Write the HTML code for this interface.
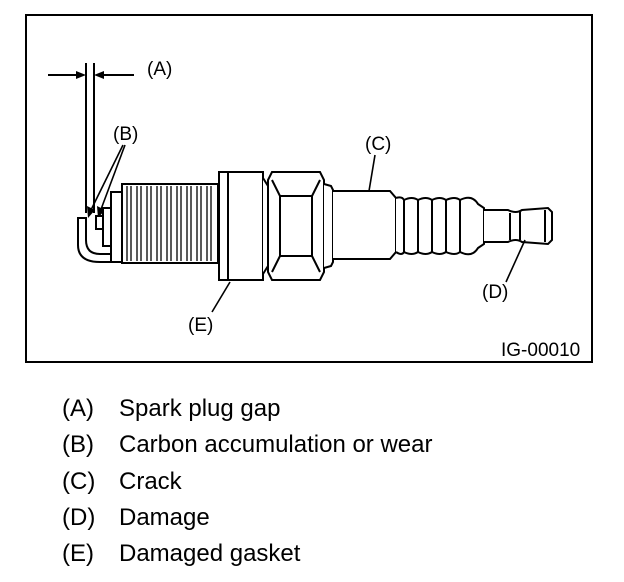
<!DOCTYPE html>
<html><head><meta charset="utf-8"><style>
html,body{margin:0;padding:0;background:#fff;}
svg{display:block;}
text{font-family:"Liberation Sans",Arial,sans-serif;fill:#000;}
</style></head><body>
<svg width="624" height="582" viewBox="0 0 624 582" xmlns="http://www.w3.org/2000/svg">
<rect x="26" y="15" width="566" height="347" fill="none" stroke="#000" stroke-width="2"/>
<g stroke="#000" stroke-width="2" fill="none">
<line x1="86" y1="63" x2="86" y2="213"/>
<line x1="94" y1="63" x2="94" y2="213"/>
<line x1="48" y1="75" x2="80" y2="75"/>
<line x1="100" y1="75" x2="134" y2="75"/>
</g>
<polygon points="86,75 76,71 76,79" fill="#000"/>
<polygon points="94,75 104,71 104,79" fill="#000"/>
<text x="147" y="75" font-size="19">(A)</text>
<text x="113" y="140" font-size="19">(B)</text>
<g stroke="#000" stroke-width="1.6" fill="none">
<line x1="123" y1="145" x2="90" y2="212"/>
<line x1="125" y1="145" x2="100" y2="212"/>
</g>
<polygon points="88,218 87,206 95,210" fill="#000"/>
<polygon points="98,218 97,206 105,210" fill="#000"/>
<g stroke="#000" stroke-width="2" fill="#fff">
<path d="M78,218 L78,245 Q78,262 100,262 L112,262 L112,254 L100,254 Q86,254 86,240 L86,218 Z"/>
<rect x="96" y="216" width="7" height="13"/>
<rect x="103" y="208" width="8" height="38"/>
<rect x="111" y="192" width="11" height="70"/>
<rect x="122" y="184" width="96" height="79"/>
</g>
<g stroke="#000" stroke-width="1.3">
<line x1="127" y1="186" x2="127" y2="261"/><line x1="131" y1="186" x2="131" y2="261"/>
<line x1="137" y1="186" x2="137" y2="261"/><line x1="141" y1="186" x2="141" y2="261"/>
<line x1="147" y1="186" x2="147" y2="261"/><line x1="151" y1="186" x2="151" y2="261"/>
<line x1="157" y1="186" x2="157" y2="261"/><line x1="161" y1="186" x2="161" y2="261"/>
<line x1="167" y1="186" x2="167" y2="261"/><line x1="171" y1="186" x2="171" y2="261"/>
<line x1="177" y1="186" x2="177" y2="261"/><line x1="181" y1="186" x2="181" y2="261"/>
<line x1="187" y1="186" x2="187" y2="261"/><line x1="191" y1="186" x2="191" y2="261"/>
<line x1="197" y1="186" x2="197" y2="261"/><line x1="201" y1="186" x2="201" y2="261"/>
<line x1="207" y1="186" x2="207" y2="261"/><line x1="211" y1="186" x2="211" y2="261"/>
</g>
<g stroke="#000" stroke-width="2" fill="#fff">
<rect x="219" y="172" width="44" height="108"/>
<line x1="228" y1="172" x2="228" y2="280"/>
<path d="M263,178 L268,186 L268,266 L263,274"/>
<path d="M272,172 L320,172 L324,180 L324,272 L320,280 L272,280 L268,272 L268,180 Z"/>
<path d="M272,180 L280,196 L280,256 L272,272"/>
<path d="M320,180 L312,196 L312,256 L320,272"/>
<line x1="280" y1="196" x2="312" y2="196"/>
<line x1="280" y1="256" x2="312" y2="256"/>
<path d="M324,184 L331,186 L333,190 L333,262 L331,266 L324,268"/>
<path d="M333,191 L390,191 L396,198 L396,252 L390,259 L333,259"/>
<path d="M396,198 Q402,196 404,200 Q412,196 418,200 Q426,196 432,200 Q440,196 446,200 Q455,196 460,200 Q472,194 478,204 L484,208 L484,244 L478,248 Q472,258 460,252 Q455,256 446,252 Q440,256 432,252 Q426,256 418,252 Q412,256 404,252 Q402,256 396,252"/>
<line x1="404" y1="200" x2="404" y2="252"/>
<line x1="418" y1="200" x2="418" y2="252"/>
<line x1="432" y1="200" x2="432" y2="252"/>
<line x1="446" y1="200" x2="446" y2="252"/>
<line x1="460" y1="200" x2="460" y2="252"/>
<path d="M484,210 L508,210 Q516,214 522,210 L548,208 L552,212 L552,240 L548,244 L522,242 Q516,238 508,242 L484,242"/>
<line x1="510" y1="213" x2="510" y2="240"/>
<line x1="520" y1="212" x2="520" y2="240"/>
<line x1="545" y1="210" x2="545" y2="242"/>
</g>
<g stroke="#000" stroke-width="1.6">
<line x1="375" y1="155" x2="369" y2="191"/>
<line x1="525" y1="240" x2="506" y2="282"/>
<line x1="230" y1="282" x2="212" y2="312"/>
</g>
<text x="365" y="150" font-size="19">(C)</text>
<text x="482" y="298" font-size="19">(D)</text>
<text x="188" y="331" font-size="19">(E)</text>
<text x="501" y="356" font-size="19">IG-00010</text>
<g font-size="24">
<text x="62" y="416">(A)</text><text x="119" y="416">Spark plug gap</text>
<text x="62" y="452">(B)</text><text x="119" y="452">Carbon accumulation or wear</text>
<text x="62" y="489">(C)</text><text x="119" y="489">Crack</text>
<text x="62" y="525">(D)</text><text x="119" y="525">Damage</text>
<text x="62" y="561">(E)</text><text x="119" y="561">Damaged gasket</text>
</g>
</svg>
</body></html>
